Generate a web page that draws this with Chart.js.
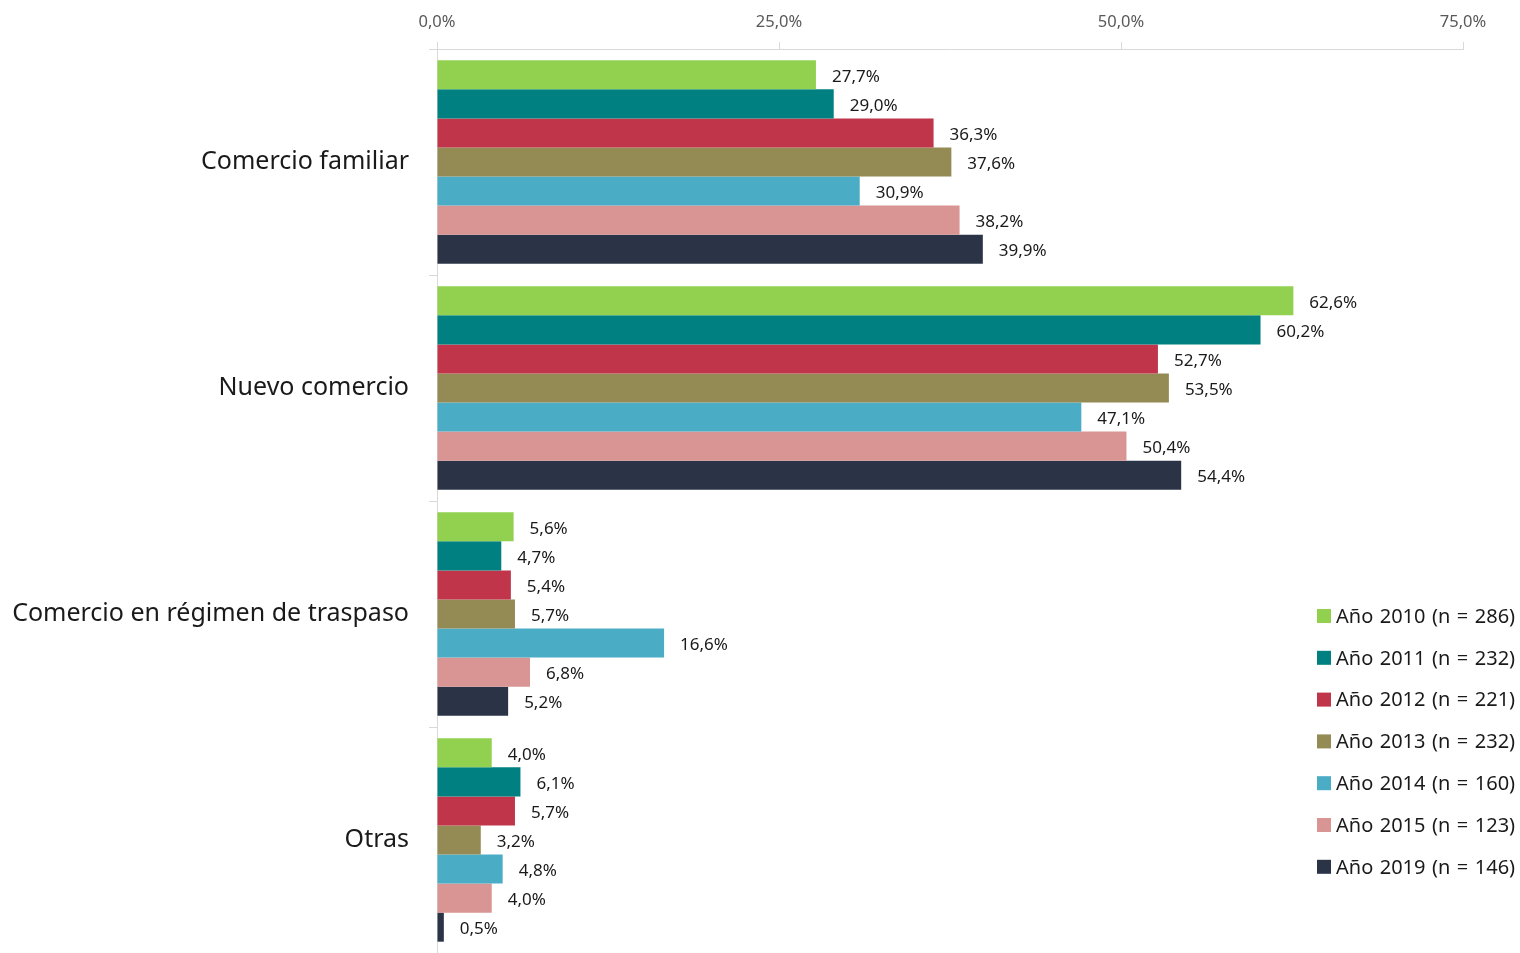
<!DOCTYPE html>
<html lang="es">
<head>
<meta charset="utf-8">
<title>Tipo de comercio por año</title>
<script src="https://cdn.jsdelivr.net/npm/chart.js@4.4.1/dist/chart.umd.min.js"></script>
<style>
  html, body { margin: 0; padding: 0; background: #ffffff; }
  #chart { display: block; }
</style>
</head>
<body>
<canvas id="chart" width="1520" height="953"></canvas>
<script>
const categories = ["Comercio familiar", "Nuevo comercio", "Comercio en régimen de traspaso", "Otras"];

const seriesLabels = [
  "Año 2010 (n = 286)",
  "Año 2011 (n = 232)",
  "Año 2012 (n = 221)",
  "Año 2013 (n = 232)",
  "Año 2014 (n = 160)",
  "Año 2015 (n = 123)",
  "Año 2019 (n = 146)"
];

const year2010 = [27.7, 62.6, 5.6, 4.0];
const year2011 = [29.0, 60.2, 4.7, 6.1];
const year2012 = [36.3, 52.7, 5.4, 5.7];
const year2013 = [37.6, 53.5, 5.7, 3.2];
const year2014 = [30.9, 47.1, 16.6, 4.8];
const year2015 = [38.2, 50.4, 6.8, 4.0];
const year2019 = [39.9, 54.4, 5.2, 0.5];

const xTicks = [0, 25, 50, 75];

const colors = ["#92D050", "#008080", "#C0354A", "#948A54", "#4BACC6", "#D99594", "#2B3447"];

const FONT = "'Noto Sans', 'DejaVu Sans', sans-serif";

function pct(v) {
  return v.toFixed(1).replace(".", ",") + "%";
}

// value labels at the end of each bar
const barLabels = {
  id: "barLabels",
  afterDatasetsDraw(chart) {
    const ctx = chart.ctx;
    ctx.save();
    ctx.font = "17px " + FONT;
    ctx.fillStyle = "#1a1a1a";
    ctx.textAlign = "left";
    ctx.textBaseline = "middle";
    chart.data.datasets.forEach((ds, i) => {
      chart.getDatasetMeta(i).data.forEach((bar, j) => {
        ctx.fillText(pct(ds.data[j]), bar.x + 16, bar.y + 2);
      });
    });
    ctx.restore();
  }
};

// legend drawn over the lower right of the plot
const sideLegend = {
  id: "sideLegend",
  afterDraw(chart) {
    const ctx = chart.ctx;
    ctx.save();
    ctx.font = "20px " + FONT;
    ctx.wordSpacing = "1.3px";
    ctx.textAlign = "left";
    ctx.textBaseline = "middle";
    chart.data.datasets.forEach((ds, i) => {
      const y = 616 + i * 41.8;
      ctx.fillStyle = ds.backgroundColor;
      ctx.fillRect(1317, y - 7, 14, 14);
      ctx.fillStyle = "#1a1a1a";
      ctx.fillText(ds.label, 1336, y + 1);
    });
    ctx.restore();
  }
};

const yearData = [year2010, year2011, year2012, year2013, year2014, year2015, year2019];

new Chart(document.getElementById("chart"), {
  type: "bar",
  data: {
    labels: categories,
    datasets: yearData.map((d, i) => ({
      label: seriesLabels[i],
      data: d,
      backgroundColor: colors[i],
      borderWidth: 0,
      barPercentage: 1,
      categoryPercentage: 0.9
    }))
  },
  options: {
    indexAxis: "y",
    responsive: false,
    animation: false,
    devicePixelRatio: 1,
    layout: { padding: { left: 0, right: 57, top: 0, bottom: 0 } },
    plugins: {
      legend: { display: false },
      tooltip: { enabled: false }
    },
    scales: {
      x: {
        position: "top",
        min: 0,
        max: 75,
        afterBuildTicks: axis => { axis.ticks = xTicks.map(v => ({ value: v })); },
        afterFit: axis => { axis.height = 49; },
        border: { display: true, color: "#D9D9D9", width: 1 },
        grid: { drawOnChartArea: false, drawTicks: true, tickLength: 7, color: "#D9D9D9" },
        ticks: {
          padding: 10,
          color: "#595959",
          font: { family: FONT, size: 16.5 },
          callback: v => pct(v)
        }
      },
      y: {
        afterFit: axis => {
          axis.width = 437;
          axis.paddingTop = 0;
          axis.paddingBottom = 0;
        },
        border: { display: true, color: "#D9D9D9", width: 1 },
        grid: { offset: true, drawOnChartArea: false, drawTicks: true, tickLength: 8, color: "#D9D9D9" },
        ticks: {
          padding: 20,
          color: "#1a1a1a",
          font: { family: FONT, size: 25 }
        }
      }
    }
  },
  plugins: [barLabels, sideLegend]
});
</script>
</body>
</html>
